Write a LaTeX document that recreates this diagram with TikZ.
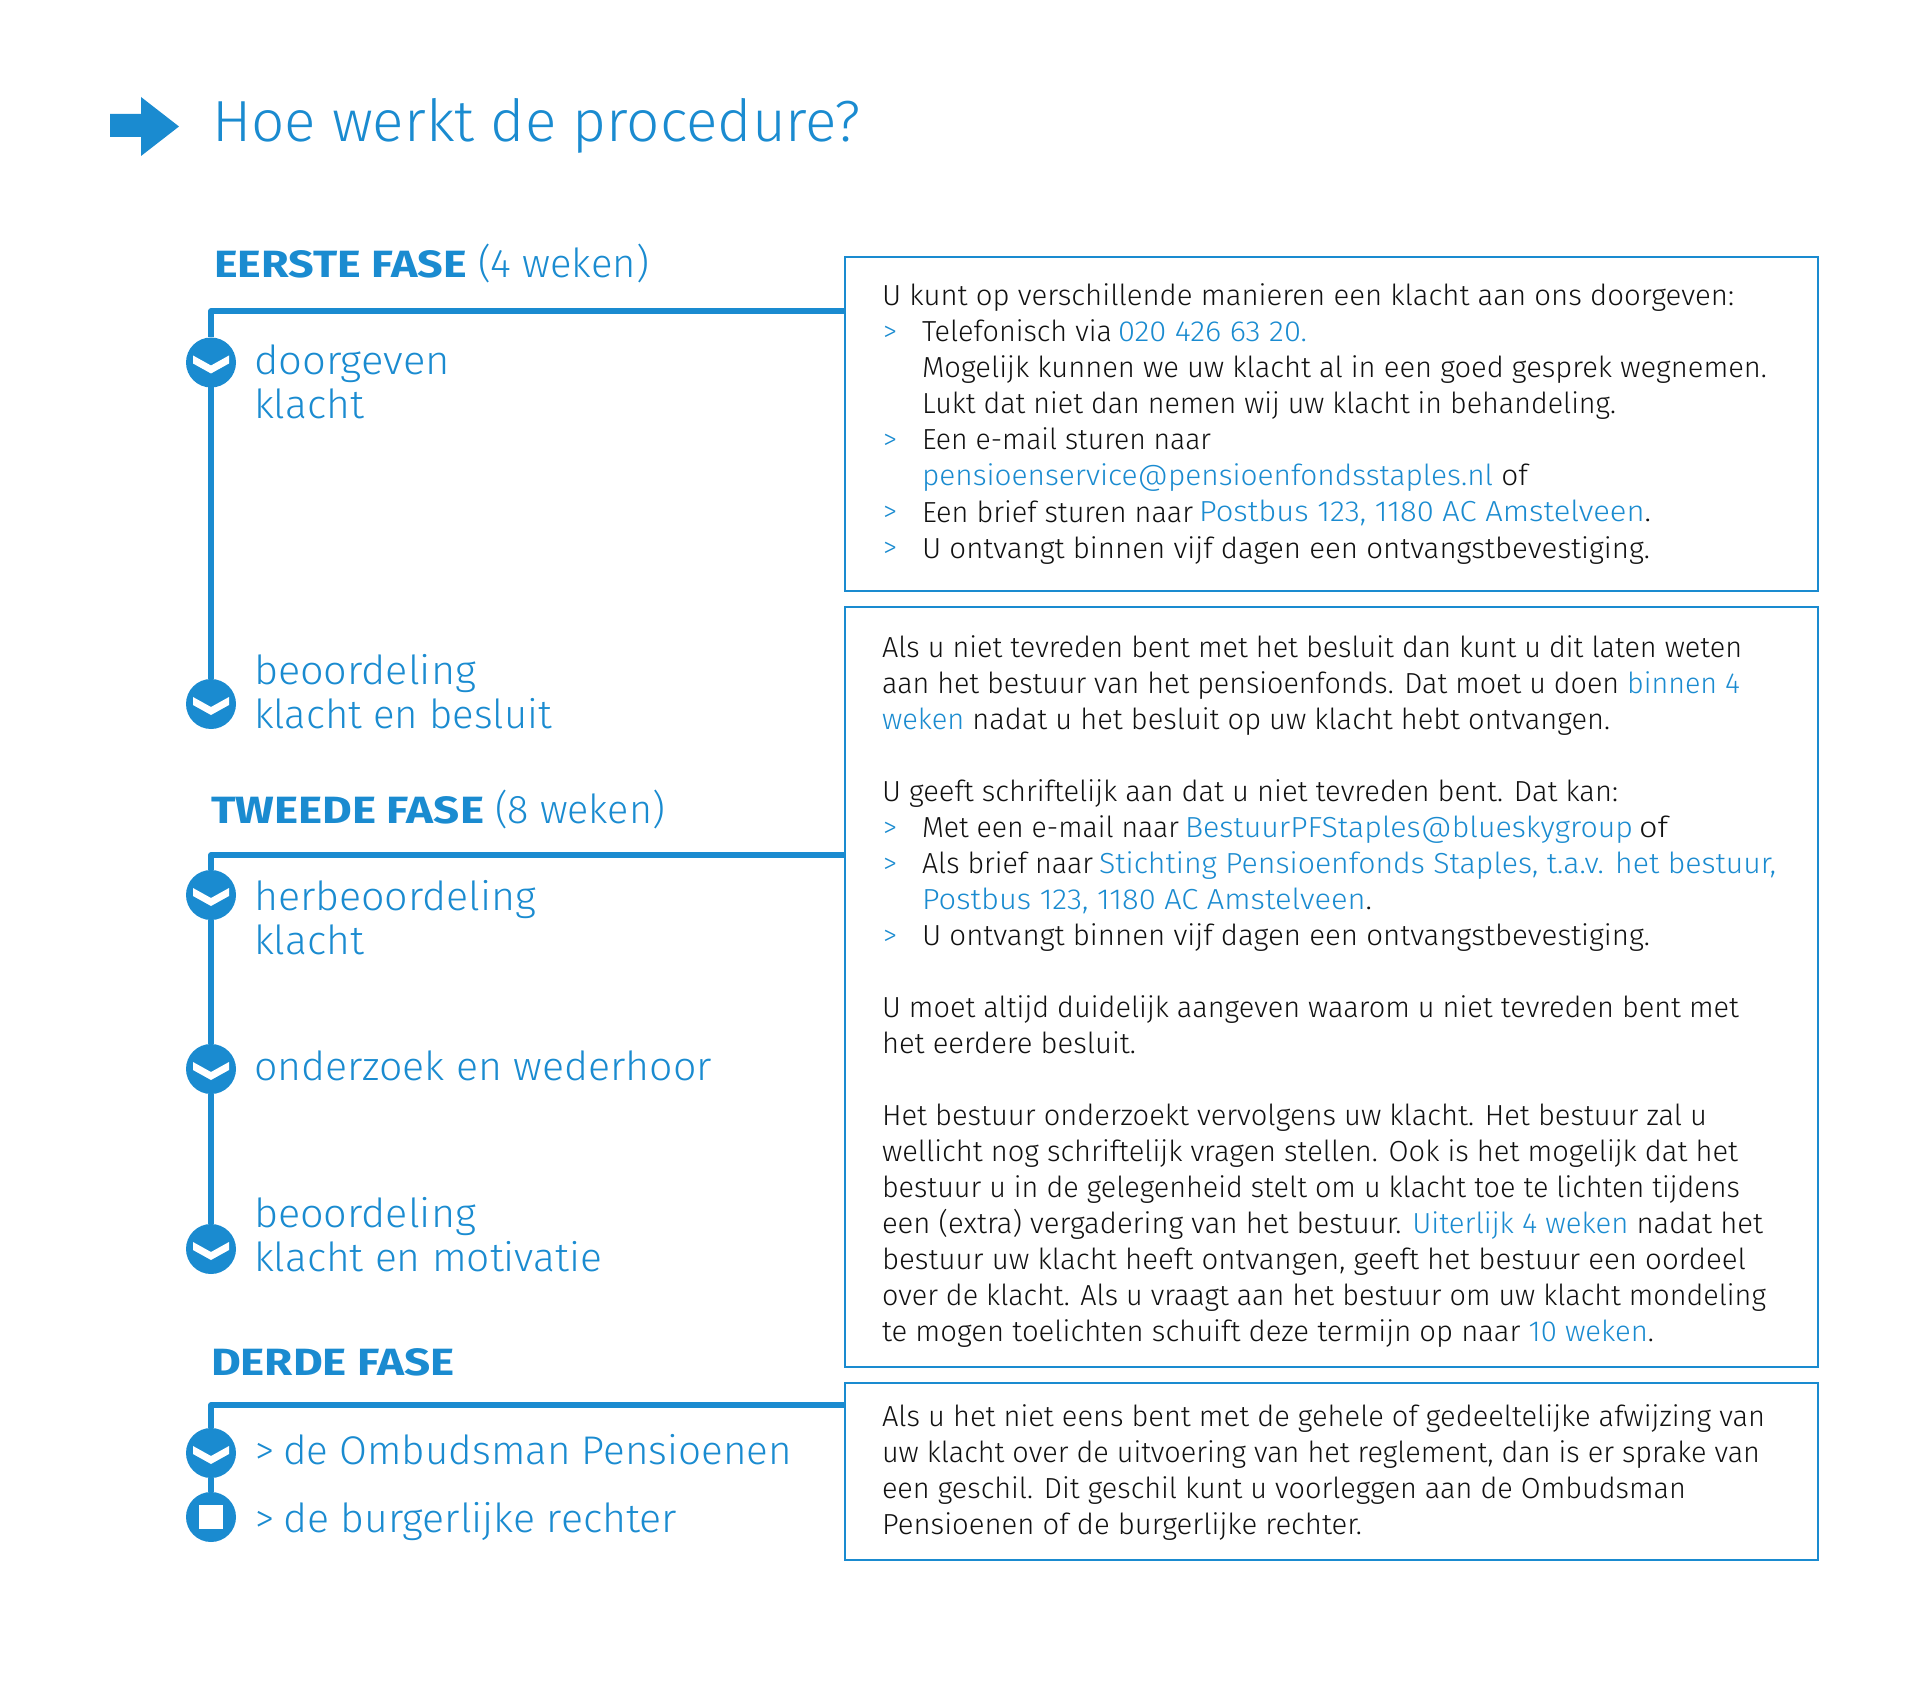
\documentclass[tikz,border=0pt]{standalone}
\usepackage{fontspec}
\usepackage{graphicx}
\setmainfont{Fira Sans Light}
\newfontfamily\boldf{Fira Sans Bold}
\definecolor{brand}{HTML}{1A8BD0}
\definecolor{ink}{HTML}{111111}
\newcommand\hl[1]{\textcolor{brand}{#1}}
\newcounter{tlc}
% x-start, baseline, x-end, text, in reference pixels
\newcommand\txtline[5][body]{%
  \stepcounter{tlc}%
  \pgfmathsetlengthmacro\tlw{(#4-#2)*0.5pt}%
  \node[#1] (t\arabic{tlc}) at (#2,#3) {\resizebox{\tlw}{\height}{#5}};}
\newcommand\chev[1]{\fill[white,shift={(#1)}] (-18,-7) -- (0,3) -- (18,-7) -- (18,1) -- (0,11) -- (-18,1) -- cycle;}
\tikzset{
  x=0.5pt,y=-0.5pt,
  base line/.style={anchor=base west,inner sep=0pt,outer sep=0pt},
  body/.style={base line,text=ink,font=\fontsize{14.5}{18}\selectfont},
  blue/.style={base line,text=brand,font=\fontsize{14.5}{18}\selectfont},
  label/.style={base line,text=brand,font=\fontsize{20}{22}\selectfont},
  head/.style={base line,text=brand,font=\boldf\fontsize{19}{22}\selectfont},
  title/.style={base line,text=brand,font=\fontsize{29}{34}\selectfont},
  infobox/.style={draw=brand,line width=1pt,fill=white,rectangle,inner sep=0pt,outer sep=0pt,anchor=north west},
  stepdot/.style={circle,fill=brand,minimum size=25pt,inner sep=0pt,outer sep=0pt},
  conn/.style={draw=brand,line width=2.75pt},
}
\begin{document}
\begin{tikzpicture}
\useasboundingbox (0,0) rectangle (1928,1701);
% arrow
\fill[brand] (110,114) -- (141,114) -- (141,97) -- (179,126.5) -- (141,156) -- (141,137) -- (110,137) -- cycle;
\txtline[title]{212}{142}{861}{Hoe werkt de procedure?}
% boxes
\node[infobox,minimum width=486.5pt,minimum height=167pt] (box1) at (845,257) {};
\node[infobox,minimum width=486.5pt,minimum height=380pt] (box2) at (845,607) {};
\node[infobox,minimum width=486.5pt,minimum height=88.5pt] (box3) at (845,1383) {};
% step dots
\node[stepdot] (a1) at (211,362.5) {};
\node[stepdot] (a2) at (211,704) {};
\node[stepdot] (b1) at (211,895) {};
\node[stepdot] (b2) at (211,1069) {};
\node[stepdot] (b3) at (211,1249) {};
\node[stepdot] (c1) at (211,1453) {};
\node[stepdot] (c2) at (211,1517) {};
\chev{a1}\chev{a2}\chev{b1}\chev{b2}\chev{b3}\chev{c1}
\node[fill=white,minimum size=12pt,inner sep=0pt] (c2s) at (c2) {};
% connectors
\coordinate (ca) at (211,311);
\coordinate (cb) at (211,855);
\coordinate (cc) at (211,1405);
\path[conn,line join=round] (box1.west |- ca) -- (ca) -- (a1);
\path[conn] (a1) -- (a2);
\path[conn,line join=round] (box2.west |- cb) -- (cb) -- (b1);
\path[conn] (b1) -- (b2);
\path[conn] (b2) -- (b3);
\path[conn,line join=round] (box3.west |- cc) -- (cc) -- (c1);
\path[conn] (c1) -- (c2);
% left column
\txtline[head]{214}{278}{467}{EERSTE FASE}
\txtline[label]{478}{278}{649}{(4 weken)}
\txtline[label]{254}{375}{450}{doorgeven}
\txtline[label]{254}{419}{364}{klacht}
\txtline[label]{254}{684.5}{476}{beoordeling}
\txtline[label]{254}{728.5}{552}{klacht en besluit}
\txtline[head]{211}{823}{484}{TWEEDE FASE}
\txtline[label]{495}{823}{665}{(8 weken)}
\txtline[label]{254}{910.5}{536}{herbeoordeling}
\txtline[label]{254}{954.5}{364}{klacht}
\txtline[label]{254}{1080.5}{712}{onderzoek en wederhoor}
\txtline[label]{254}{1227.5}{476}{beoordeling}
\txtline[label]{254}{1271.5}{602}{klacht en motivatie}
\txtline[head]{211}{1375}{455}{DERDE FASE}
\txtline[label]{255}{1464}{274}{>}
\txtline[label]{283}{1464}{792}{de Ombudsman Pensioenen}
\txtline[label]{255}{1532}{274}{>}
\txtline[label]{283}{1532}{677}{de burgerlijke rechter}
% box 1
\txtline{882}{306}{1734}{U kunt op verschillende manieren een klacht aan ons doorgeven:}
\txtline[blue]{883}{342}{897}{>}
\txtline{922}{342}{1112}{Telefonisch via}
\txtline[blue]{1118}{342}{1307}{020 426 63 20.}
\txtline{922}{378}{1767}{Mogelijk kunnen we uw klacht al in een goed gesprek wegnemen.}
\txtline{922}{414}{1616}{Lukt dat niet dan nemen wij uw klacht in behandeling.}
\txtline[blue]{883}{450}{897}{>}
\txtline{922}{450}{1211}{Een e-mail sturen naar}
\txtline{922}{486}{1528}{\hl{pensioenservice@pensioenfondsstaples.nl} of}
\txtline[blue]{883}{522}{897}{>}
\txtline{922}{522}{1193}{Een brief sturen naar}
\txtline{1199}{522}{1651}{\hl{Postbus 123, 1180 AC Amstelveen}.}
\txtline[blue]{883}{558}{897}{>}
\txtline{922}{558}{1650}{U ontvangt binnen vijf dagen een ontvangstbevestiging.}
% box 2
\txtline{882}{657}{1742}{Als u niet tevreden bent met het besluit dan kunt u dit laten weten}
\txtline{882}{693}{1740}{aan het bestuur van het pensioenfonds. Dat moet u doen \hl{binnen 4}}
\txtline{882}{729}{1610}{\hl{weken} nadat u het besluit op uw klacht hebt ontvangen.}
\txtline{882}{801}{1618}{U geeft schriftelijk aan dat u niet tevreden bent. Dat kan:}
\txtline[blue]{883}{837}{897}{>}
\txtline{922}{837}{1179}{Met een e-mail naar}
\txtline[blue]{1185}{837}{1633}{BestuurPFStaples@blueskygroup}
\txtline{1639}{837}{1668}{of}
\txtline[blue]{883}{873}{897}{>}
\txtline{922}{873}{1093}{Als brief naar}
\txtline[blue]{1099}{873}{1776}{Stichting Pensioenfonds Staples, t.a.v. het bestuur,}
\txtline{922}{909}{1372}{\hl{Postbus 123, 1180 AC Amstelveen}.}
\txtline[blue]{883}{945}{897}{>}
\txtline{922}{945}{1650}{U ontvangt binnen vijf dagen een ontvangstbevestiging.}
\txtline{882}{1017}{1739}{U moet altijd duidelijk aangeven waarom u niet tevreden bent met}
\txtline{882}{1053}{1136}{het eerdere besluit.}
\txtline{882}{1125}{1707}{Het bestuur onderzoekt vervolgens uw klacht. Het bestuur zal u}
\txtline{882}{1161}{1738}{wellicht nog schriftelijk vragen stellen. Ook is het mogelijk dat het}
\txtline{882}{1197}{1740}{bestuur u in de gelegenheid stelt om u klacht toe te lichten tijdens}
\txtline{882}{1233}{1763}{een (extra) vergadering van het bestuur. \hl{Uiterlijk 4 weken} nadat het}
\txtline{882}{1269}{1746}{bestuur uw klacht heeft ontvangen, geeft het bestuur een oordeel}
\txtline{882}{1305}{1766}{over de klacht. Als u vraagt aan het bestuur om uw klacht mondeling}
\txtline{882}{1341}{1654}{te mogen toelichten schuift deze termijn op naar \hl{10 weken}.}
% box 3
\txtline{882}{1426}{1765}{Als u het niet eens bent met de gehele of gedeeltelijke afwijzing van}
\txtline{882}{1462}{1760}{uw klacht over de uitvoering van het reglement, dan is er sprake van}
\txtline{882}{1498}{1686}{een geschil. Dit geschil kunt u voorleggen aan de Ombudsman}
\txtline{882}{1534}{1362}{Pensioenen of de burgerlijke rechter.}
\end{tikzpicture}
\end{document}
